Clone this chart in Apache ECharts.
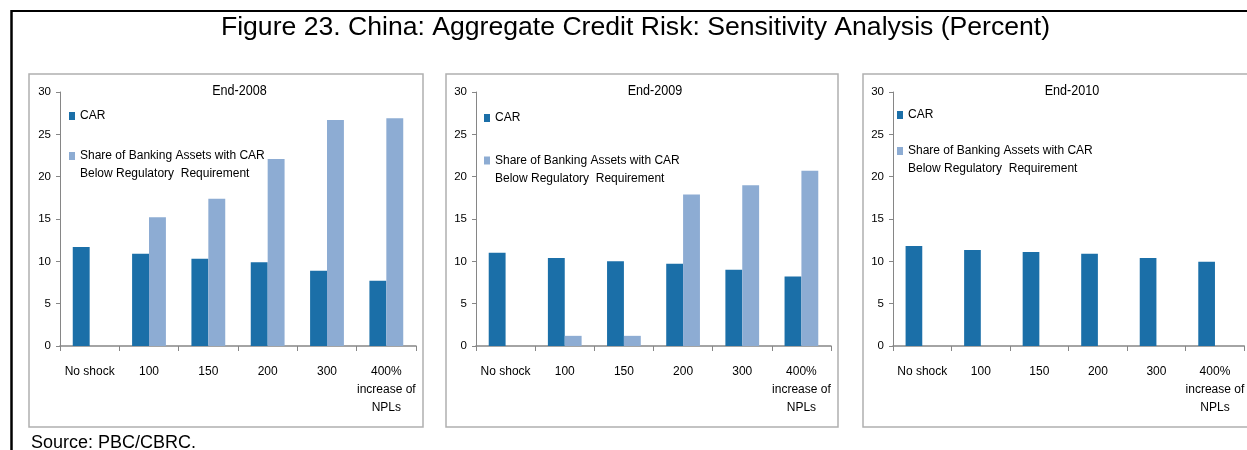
<!DOCTYPE html>
<html>
<head>
<meta charset="utf-8">
<style>
  html, body { margin: 0; padding: 0; background: #fff; }
  #chart { width: 1247px; height: 450px; }
</style>
<script src="https://cdn.jsdelivr.net/npm/echarts@6/dist/echarts.min.js"></script>
</head>
<body>
<div id="chart"></div>
<script>
// shock scenarios (increase of NPLs)
var categories = ['No shock', '100', '150', '200', '300', '400%\nincrease of\nNPLs']
var yTicks = [0, 5, 10, 15, 20, 25, 30]

// End-2008
var car2008 = [11.7, 10.9, 10.3, 9.9, 8.9, 7.7]
var share2008 = [0, 15.2, 17.4, 22.1, 26.7, 26.9]
// End-2009
var car2009 = [11.0, 10.4, 10.0, 9.7, 9.0, 8.2]
var share2009 = [0, 1.2, 1.2, 17.9, 19.0, 20.7]
// End-2010
var car2010 = [11.8, 11.35, 11.1, 10.9, 10.4, 9.95]
var share2010 = [0, 0, 0, 0, 0, 0]

var panelTitles = ['End-2008', 'End-2009', 'End-2010']

var CAR_NAME = 'CAR'
var SHARE_NAME = 'Share of Banking Assets with CAR\nBelow Regulatory  Requirement'

// no narrow face available, so the sizes are picked to match text widths
var font = "'Liberation Sans', Arial, sans-serif"

var darkBlue = '#1b6fa8'
var lightBlue = '#8dacd3'
var axisGray = '#868686'

var grids = [
  { left: 60, top: 92, width: 356, height: 254 },
  { left: 476, top: 92, width: 355, height: 254 },
  { left: 893, top: 92, width: 355, height: 254 }
]
var legendPos = [
  { x: 69, car: 116, share: 156 },
  { x: 484, car: 118, share: 160.5 },
  { x: 897, car: 115, share: 151 }
]

var chart = echarts.init(document.getElementById('chart'), null, { renderer: 'canvas' })

var xAxes = [], yAxes = [], series = [], legends = [], graphics = []
var cars = [car2008, car2009, car2010]
var shares = [share2008, share2009, share2010]

for (var i = 0; i < 3; i++) {
  xAxes.push({
    gridIndex: i,
    type: 'category',
    data: categories,
    axisLine: { lineStyle: { color: axisGray, width: 1.5 } },
    axisTick: { show: true, length: 5, lineStyle: { color: axisGray } },
    axisLabel: {
      interval: 0,
      margin: 17,
      color: '#000',
      fontFamily: font,
      fontSize: 12,
      lineHeight: 18
    }
  })
  yAxes.push({
    gridIndex: i,
    type: 'value',
    min: 0,
    max: 30,
    interval: 5,
    axisLine: { show: true, lineStyle: { color: axisGray, width: 1 } },
    axisTick: { show: true, length: 4, lineStyle: { color: axisGray } },
    splitLine: { show: false },
    axisLabel: {
      margin: 9,
      color: '#000',
      fontFamily: font,
      fontSize: 11.5,
      formatter: function (v) { return yTicks.indexOf(v) > -1 ? String(v) : '' }
    }
  })
  series.push({
    name: CAR_NAME,
    type: 'bar',
    xAxisIndex: i,
    yAxisIndex: i,
    data: cars[i],
    barGap: '0%',
    barCategoryGap: '43%',
    itemStyle: { color: darkBlue }
  })
  series.push({
    name: SHARE_NAME,
    type: 'bar',
    xAxisIndex: i,
    yAxisIndex: i,
    data: shares[i],
    barGap: '0%',
    barCategoryGap: '43%',
    itemStyle: { color: lightBlue }
  })

  var lp = legendPos[i]
  var legendText = { color: '#000', fontFamily: font, fontSize: 12, lineHeight: 18 }
  legends.push({
    data: [CAR_NAME],
    left: lp.x,
    top: lp.car - 9,
    padding: 0,
    icon: 'rect',
    itemWidth: 6,
    itemHeight: 8,
    itemStyle: { borderWidth: 0 },
    selectedMode: false,
    textStyle: legendText
  })
  legends.push({
    data: [SHARE_NAME],
    left: lp.x,
    top: lp.share - 27,
    padding: 0,
    icon: 'rect',
    itemWidth: 6,
    itemHeight: 8,
    itemStyle: { borderWidth: 0 },
    selectedMode: false,
    formatter: function (name) { return '\n' + name },
    textStyle: legendText
  })

  graphics.push({
    type: 'text',
    x: grids[i].left + grids[i].width / 2 + 1.5,
    y: 91,
    scaleX: 0.84,
    style: {
      text: panelTitles[i],
      fill: '#000',
      font: '15px ' + font,
      align: 'center',
      verticalAlign: 'middle'
    }
  })
}

// panel frames
var boxes = [[29, 74, 394, 353], [446, 74, 392, 353], [863, 74, 400, 353]]
boxes.forEach(function (b) {
  graphics.push({
    type: 'rect',
    shape: { x: b[0], y: b[1], width: b[2], height: b[3] },
    style: { fill: null, stroke: '#b0b0b0', lineWidth: 1.5 },
    z: -1
  })
})

// outer black frame
graphics.push({ type: 'line', shape: { x1: 11, y1: 11, x2: 1247, y2: 11 }, style: { stroke: '#000', lineWidth: 2 } })
graphics.push({ type: 'line', shape: { x1: 11.5, y1: 10, x2: 11.5, y2: 450 }, style: { stroke: '#000', lineWidth: 2.5 } })

graphics.push({
  type: 'text',
  x: 635.5,
  y: 28,
  style: {
    text: 'Figure 23. China: Aggregate Credit Risk: Sensitivity Analysis (Percent)',
    fill: '#000',
    font: '26.6px ' + font,
    align: 'center',
    verticalAlign: 'middle'
  }
})
graphics.push({
  type: 'text',
  x: 31,
  y: 443,
  style: {
    text: 'Source: PBC/CBRC.',
    fill: '#000',
    font: '18px ' + font,
    align: 'left',
    verticalAlign: 'middle'
  }
})

chart.setOption({
  backgroundColor: '#fff',
  animation: false,
  grid: grids,
  xAxis: xAxes,
  yAxis: yAxes,
  legend: legends,
  series: series,
  graphic: graphics
})
</script>
</body>
</html>
